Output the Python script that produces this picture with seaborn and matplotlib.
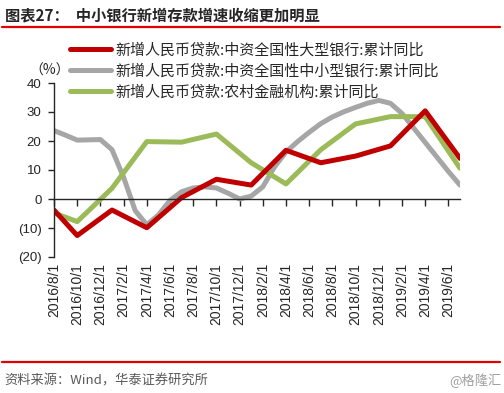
import seaborn as sns
import pandas as pd
import matplotlib.pyplot as plt
from matplotlib.lines import Line2D

# month index 0 = 2016/8
tick_labels = ["2016/8/1", "2016/10/1", "2016/12/1", "2017/2/1", "2017/4/1", "2017/6/1",
               "2017/8/1", "2017/10/1", "2017/12/1", "2018/2/1", "2018/4/1", "2018/6/1",
               "2018/8/1", "2018/10/1", "2018/12/1", "2019/2/1", "2019/4/1", "2019/6/1"]

big_months = [0, 2, 5, 8, 11, 14, 17, 20, 23, 26, 29, 32, 35]
big_vals = [-3.8, -12.6, -3.8, -9.9, 0.5, 6.8, 4.8, 16.8, 12.5, 14.8, 18.3, 30.4, 14.0]

rural_months = [0, 2, 5, 8, 11, 14, 17, 20, 23, 26, 29, 32, 35]
rural_vals = [-4.8, -7.8, 3.7, 19.8, 19.6, 22.4, 12.5, 5.2, 17.0, 25.9, 28.4, 28.4, 10.6]

small_months = list(range(36))
small_vals = [23.6, 22.0, 20.3, 20.4, 20.5, 17.0, 7.5, -4.0, -8.9, -5.5, -0.5, 2.5,
              3.8, 4.2, 3.8, 2.0, 0.0, 1.0, 4.2, 11.0, 16.2, 19.8, 23.0, 26.0,
              28.3, 30.1, 31.6, 33.0, 34.0, 33.0, 29.5, 24.5, 19.5, 14.5, 9.5, 4.8]

labels = ["新增人民币贷款:中资全国性大型银行:累计同比",
          "新增人民币贷款:中资全国性中小型银行:累计同比",
          "新增人民币贷款:农村金融机构:累计同比"]
colors = ["#C00000", "#A6A6A6", "#9BBB59"]

df_big = pd.DataFrame({"m": big_months, "v": big_vals})
df_small = pd.DataFrame({"m": small_months, "v": small_vals})
df_rural = pd.DataFrame({"m": rural_months, "v": rural_vals})

sns.set_style("ticks")
plt.rcParams['font.family'] = ['Liberation Sans', 'Noto Sans CJK SC', 'DejaVu Sans']
cjk = ['Noto Sans CJK SC', 'DejaVu Sans']

fig = plt.figure(figsize=(5.04, 3.93), dpi=100)
ax = fig.add_axes([54/504, 1 - 257/393, (460-54)/504, (257-83)/393])

lw = 3.6
sns.lineplot(x="m", y="v", data=df_small, ax=ax, color=colors[1], lw=lw)
sns.lineplot(x="m", y="v", data=df_rural, ax=ax, color=colors[2], lw=lw)
sns.lineplot(x="m", y="v", data=df_big, ax=ax, color=colors[0], lw=lw)

ax.set_xlim([0, 35])
ax.set_ylim([-20, 40])
ax.set_yticks(range(-20, 41, 10))
ax.set_yticklabels(["(20)", "(10)", "0", "10", "20", "30", "40"], fontsize=9.5)
ax.set_xticks(range(0, 35, 2))
ax.set_xticklabels(tick_labels, fontsize=9.5)
ax.set_xlabel("")
ax.set_ylabel("")

ax.spines['top'].set_visible(False)
ax.spines['right'].set_visible(False)
ax.spines['bottom'].set_position(('data', 0))
ax.spines['left'].set_linewidth(1.0)
ax.spines['bottom'].set_linewidth(1.0)
ax.tick_params(axis='x', direction='out', length=5, width=1, pad=41, labelrotation=90)
ax.tick_params(axis='y', direction='out', length=4, width=1, pad=5)

ax.text(-0.4, 44.2, "（%）", fontsize=10, ha='center', va='center', family=cjk, clip_on=False)

handles = [Line2D([], [], color=c, lw=lw) for c in colors]
fig.legend(handles, labels, loc='upper left', bbox_to_anchor=(70/504, 1 - 43/393),
           frameon=False, handlelength=2.7, handletextpad=0.3,
           labelspacing=0.42, borderpad=0, borderaxespad=0,
           prop={'family': cjk, 'size': 10.8})

# title and rules
fig.text(5/504, 1 - 15/393, "图表27：  中小银行新增存款增速收缩更加明显", fontsize=11,
         fontweight='bold', va='center', ha='left', family=cjk)
fig.add_artist(Line2D([2/504, 500/504], [1 - 27/393, 1 - 27/393], color="#E00000", lw=1.6))
fig.add_artist(Line2D([2/504, 500/504], [1 - 362/393, 1 - 362/393], color="#E00000", lw=1.6))
fig.text(4/504, 1 - 381/393, "资料来源：Wind，华泰证券研究所", fontsize=9.5, color="#595959",
         va='center', ha='left', family=cjk)
fig.text(502/504, 1 - 381/393, "@格隆汇", fontsize=9.5, color="#A0A0A0",
         va='center', ha='right', family=cjk)

plt.savefig("out.png", dpi=100)
